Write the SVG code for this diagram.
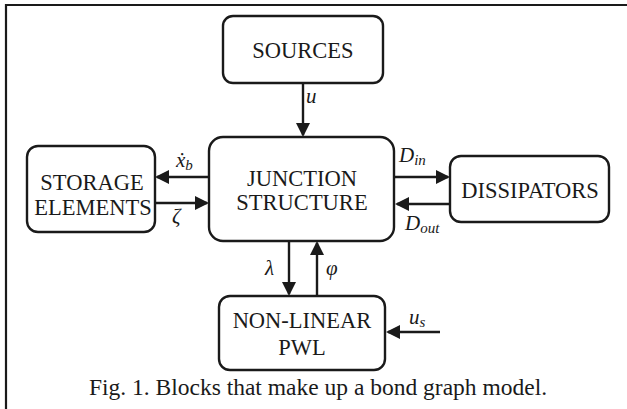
<svg xmlns="http://www.w3.org/2000/svg" width="627" height="409" viewBox="0 0 627 409">
<style>
.box{fill:#fff;stroke:#1a1a1a;stroke-width:2.4}
.lbl{font-family:"Liberation Serif","Times New Roman",serif;font-size:22.5px;fill:#1a1a1a;text-anchor:middle}
.m{font-family:"Liberation Serif","Times New Roman",serif;font-style:italic;font-size:21px;fill:#1a1a1a}
.sub{font-size:15px}
.ln{stroke:#1a1a1a;stroke-width:2.4;fill:none;marker-end:url(#ah)}
.cap{font-family:"Liberation Serif","Times New Roman",serif;font-size:23.5px;fill:#1a1a1a;text-anchor:middle}
</style>
<defs>
<marker id="ah" markerUnits="userSpaceOnUse" markerWidth="16" markerHeight="16" refX="12" refY="7" orient="auto">
<path d="M0,0 L14,7 L0,14 z" fill="#1a1a1a"/>
</marker>
</defs>
<rect width="627" height="409" fill="#fff"/>
<path d="M6,409 V5 H627" fill="none" stroke="#1a1a1a" stroke-width="2.2"/>

<g id="connectors">
<line class="ln" x1="303" y1="83" x2="303" y2="135"/>
<line class="ln" x1="209" y1="177" x2="157" y2="177"/>
<line class="ln" x1="155" y1="203" x2="207" y2="203"/>
<line class="ln" x1="394" y1="177" x2="448" y2="177"/>
<line class="ln" x1="450" y1="204" x2="397" y2="204"/>
<line class="ln" x1="289" y1="241" x2="289" y2="294"/>
<line class="ln" x1="317" y1="296" x2="317" y2="243"/>
<line class="ln" x1="440" y1="332" x2="388" y2="332"/>
<text class="m" x="306" y="103">u</text>
<text class="m" x="176" y="167">x&#775;<tspan class="sub" dy="3">b</tspan></text>
<text class="m" x="172" y="223">ζ</text>
<text class="m" x="399" y="162">D<tspan class="sub" dy="3">in</tspan></text>
<text class="m" x="405" y="230">D<tspan class="sub" dy="3">out</tspan></text>
<text class="m" x="265" y="275">λ</text>
<text class="m" x="326" y="275">φ</text>
<text class="m" x="409" y="324">u<tspan class="sub" dy="3">s</tspan></text>
</g>

<g id="sources">
<rect class="box" x="223" y="16" width="160" height="67" rx="10"/>
<text class="lbl" x="303" y="58">SOURCES</text>
</g>
<g id="junction">
<rect class="box" x="209" y="137" width="185" height="104" rx="14"/>
<text class="lbl" x="302" y="186">JUNCTION</text>
<text class="lbl" x="302" y="210">STRUCTURE</text>
</g>
<g id="storage">
<rect class="box" x="27" y="146" width="128" height="86" rx="11"/>
<text class="lbl" x="92" y="190">STORAGE</text>
<text class="lbl" x="93" y="215">ELEMENTS</text>
</g>
<g id="dissipators">
<rect class="box" x="450" y="156" width="159" height="66" rx="11"/>
<text class="lbl" x="530" y="198">DISSIPATORS</text>
</g>
<g id="nonlinear">
<rect class="box" x="219" y="296" width="166" height="74" rx="11"/>
<text class="lbl" x="302" y="328">NON-LINEAR</text>
<text class="lbl" x="302" y="355">PWL</text>
</g>
<text class="cap" x="318" y="395">Fig. 1. Blocks that make up a bond graph model.</text>
</svg>
